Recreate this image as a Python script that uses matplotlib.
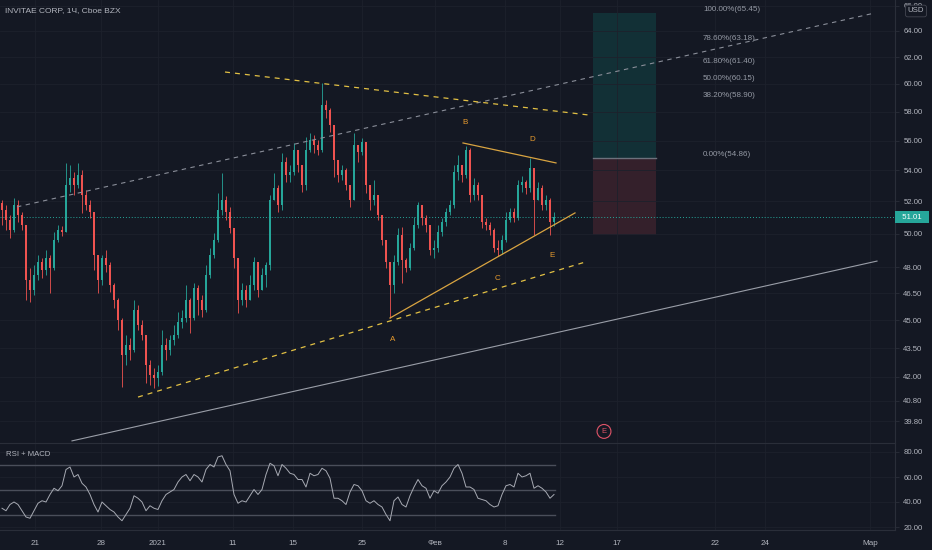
import matplotlib
matplotlib.use("Agg")
import matplotlib.pyplot as plt
from matplotlib.ticker import FixedLocator, NullLocator, FuncFormatter
from matplotlib.patches import Rectangle

# ---------------- data ----------------
title = "INVITAE CORP, 1Ч, Cboe BZX"
first_open = 51.90
closes = [51.46, 50.84, 50.23, 51.77, 51.15, 50.53, 47.26, 46.69, 47.55, 48.30,
          47.84, 48.54, 47.96, 49.62, 50.23, 50.11, 53.05, 53.51, 53.05, 53.70,
          52.41, 51.77, 51.34, 48.72, 47.26, 48.54, 48.13, 46.97, 46.12, 45.01,
          43.13, 43.66, 43.40, 45.56, 44.74, 44.20, 42.61, 42.09, 41.94, 42.25,
          43.66, 43.40, 43.93, 44.20, 44.90, 45.12, 46.12, 45.12, 46.80, 46.12,
          45.56, 47.55, 48.72, 49.62, 51.46, 52.09, 51.34, 50.35, 48.54, 46.12,
          46.69, 46.12, 46.97, 48.30, 46.69, 47.55, 48.13, 52.09, 52.86, 51.77,
          54.57, 53.70, 53.90, 55.37, 54.36, 53.05, 55.37, 56.04, 55.70, 55.37,
          58.48, 58.13, 57.08, 54.70, 53.70, 54.03, 53.05, 52.09, 55.70, 55.24,
          55.91, 53.05, 52.09, 52.41, 51.15, 49.62, 48.30, 46.97, 48.30, 49.92,
          48.42, 47.96, 49.14, 50.53, 51.77, 50.96, 50.53, 49.02, 49.14, 50.11,
          50.72, 51.34, 51.77, 53.90, 54.36, 53.70, 55.37, 52.41, 53.05, 52.41,
          50.72, 50.53, 50.23, 49.14, 49.02, 49.62, 50.84, 51.34, 50.96, 53.05,
          53.25, 52.86, 54.16, 52.09, 52.86, 51.77, 52.09, 50.72, 51.01]
highs = [52.09, 51.77, 51.15, 52.22, 52.09, 51.34, 50.53, 47.96, 48.13, 48.72,
         48.54, 49.02, 48.72, 50.11, 50.53, 50.47, 54.50, 54.36, 53.90, 54.50,
         54.03, 52.73, 52.09, 51.34, 48.72, 48.72, 49.02, 48.30, 47.09, 46.23,
         45.12, 44.20, 44.04, 46.12, 45.84, 45.01, 44.20, 42.87, 42.45, 42.61,
         44.47, 44.04, 44.20, 44.74, 45.45, 45.56, 46.97, 46.23, 47.09, 46.97,
         46.40, 48.13, 49.14, 50.05, 52.54, 53.83, 52.35, 51.65, 49.14, 48.13,
         47.09, 46.97, 47.55, 48.60, 47.84, 47.96, 48.30, 52.41, 53.83, 53.05,
         55.17, 54.90, 54.36, 55.84, 55.37, 54.36, 56.25, 56.52, 56.38, 56.04,
         60.07, 58.84, 58.27, 57.08, 54.70, 54.36, 54.16, 53.05, 56.52, 55.70,
         56.18, 55.91, 52.73, 53.38, 52.41, 51.15, 49.62, 48.30, 48.72, 50.35,
         50.41, 48.54, 49.44, 51.03, 51.96, 51.77, 51.15, 50.53, 49.62, 50.53,
         50.96, 51.59, 52.09, 54.36, 55.04, 54.36, 55.64, 55.50, 53.51, 53.25,
         52.41, 50.96, 50.72, 50.35, 49.62, 49.92, 51.34, 51.59, 51.59, 53.38,
         53.64, 53.38, 54.83, 54.16, 53.25, 53.05, 52.41, 52.22, 51.34]
lows = [50.53, 50.23, 49.74, 50.11, 50.72, 50.23, 46.12, 46.01, 46.40, 47.26,
        47.38, 47.55, 46.52, 47.84, 49.50, 49.86, 50.96, 52.60, 52.41, 52.86,
        51.28, 51.46, 50.96, 47.84, 46.52, 46.97, 47.72, 46.58, 45.67, 44.47,
        41.48, 42.61, 42.87, 43.29, 44.47, 43.93, 41.69, 41.58, 41.43, 41.53,
        42.09, 42.87, 43.13, 43.66, 44.04, 44.58, 44.90, 44.31, 45.01, 45.28,
        45.17, 45.45, 47.38, 48.54, 49.50, 51.15, 50.84, 50.05, 47.96, 45.39,
        45.84, 45.73, 46.12, 46.69, 46.29, 46.69, 46.86, 47.84, 52.09, 51.34,
        51.46, 53.25, 53.25, 53.70, 53.90, 52.60, 52.73, 55.24, 55.17, 55.04,
        55.24, 57.57, 56.59, 53.57, 53.25, 53.38, 52.73, 51.65, 52.09, 54.57,
        55.04, 52.54, 51.46, 51.77, 50.84, 49.32, 47.96, 45.12, 46.52, 48.13,
        47.09, 47.72, 47.84, 49.02, 50.35, 50.53, 50.11, 48.72, 48.54, 48.90,
        49.86, 50.47, 51.15, 51.59, 53.38, 53.25, 53.51, 51.96, 52.09, 52.09,
        50.35, 50.23, 49.92, 48.90, 48.66, 48.78, 49.50, 50.72, 50.72, 50.84,
        52.60, 52.47, 52.60, 49.92, 52.09, 51.46, 51.46, 49.92, 50.47]
rsi = [35, 33, 38, 40, 38, 33, 28, 27, 33, 39,
       41, 40, 46, 51, 49, 53, 66, 68, 60, 62,
       55, 52, 46, 38, 32, 40, 37, 34, 32, 28,
       25, 30, 35, 45, 43, 40, 33, 37, 35, 34,
       41, 46, 48, 50, 56, 60, 62, 57, 62, 60,
       56, 66, 70, 68, 76, 77, 70, 65, 46, 39,
       41, 40, 45, 50, 46, 50, 62, 71, 69, 61,
       70, 67, 63, 62, 58, 58, 52, 63, 61, 62,
       67, 65, 59, 43, 43, 41, 38, 48, 54, 53,
       49, 41, 39, 41, 38, 36, 30, 25, 41, 44,
       38, 36, 45, 52, 58, 53, 51, 43, 49, 47,
       53, 56, 60, 67, 70, 63, 52, 52, 50, 43,
       42, 41, 38, 36, 37, 46, 53, 54, 52, 63,
       60, 61, 63, 51, 53, 51, 48, 43, 46]
last_price = 51.01

price_ticks = [39.8, 40.8, 42.0, 43.5, 45.0, 46.5, 48.0, 50.0, 52.0, 54.0,
               56.0, 58.0, 60.0, 62.0, 64.0, 66.0]
rsi_ticks = [20, 40, 60, 80]
rsi_bands = [30, 50, 70]
date_labels = ["21", "28", "2021", "11", "15", "25", "Фев", "8", "12", "17", "22", "24", "Мар"]
date_pos = [8.25, 24.75, 39.0, 57.75, 72.75, 90.0, 108.25, 125.75, 139.5, 153.75, 178.25, 190.75, 217.0]

# drawings: (bar, price) anchor pairs
gray_dashed = [(3.75, 51.66), (218.25, 65.42)]
yellow_dashed_top = [(55.75, 60.88), (146.5, 57.78)]
yellow_dashed_bottom = [(34.0, 40.98), (145.75, 48.30)]
gold_lower = [(97.0, 45.12), (143.25, 51.28)]
gold_upper = [(115.25, 55.84), (138.5, 54.50)]
gray_solid = [(17.5, 38.85), (218.75, 48.36)]
wave_labels = ["A", "B", "C", "D", "E"]
wave_pos = [(97.75, 43.93), (115.75, 57.22), (124.0, 47.32), (132.5, 56.11), (137.5, 48.66)]
pos_x = (147.75, 163.5)
pos_target, pos_entry, pos_stop = 65.45, 54.86, 49.90
fib_ratios = ["100.00%", "78.60%", "61.80%", "50.00%", "38.20%", "0.00%"]
fib_prices = [65.45, 63.18, 61.40, 60.15, 58.90, 54.86]
fib_x = 175.25
event_pos = (150.5, 39.30)

# ---------------- style ----------------
BG = "#141823"
GRID = "#1d212c"
BORDER = "#2a2e39"
TXT = "#b2b5be"
UP = "#26a69a"
DN = "#ef5350"
FONT = "Liberation Sans"
plt.rcParams["font.family"] = [FONT, "DejaVu Sans"]

W, H = 932, 550
fig = plt.figure(figsize=(W / 100, H / 100), dpi=100, facecolor=BG)
ax = fig.add_axes([0, (H - 443) / H, 895 / W, 443 / H], facecolor=BG)
axr = fig.add_axes([0, (H - 530) / H, 895 / W, 87 / H], facecolor=BG, sharex=ax)

# ---------------- candles ----------------
opens = [first_open] + closes[:-1]
xs = list(range(len(closes)))
for i, (o, c, h, l) in enumerate(zip(opens, closes, highs, lows)):
    col = UP if c >= o else DN
    top = max(o, c, h)
    bot = min(o, c, l)
    ax.vlines(i, bot, top, color=col, linewidth=0.6, zorder=3)
    b0, b1 = min(o, c), max(o, c)
    if b1 - b0 < 0.03:
        b1 = b0 + 0.03
    ax.add_patch(Rectangle((i - 0.3, b0), 0.6, b1 - b0, facecolor=col, edgecolor="none", zorder=4))

ax.set_yscale("log")
ax.set_xlim(-0.5, 223.25)
ax.set_ylim(38.75, 66.46)
ax.yaxis.set_major_locator(FixedLocator(price_ticks))
ax.yaxis.set_minor_locator(NullLocator())
ax.yaxis.set_major_formatter(FuncFormatter(lambda v, p: f"{v:.2f}"))
ax.yaxis.tick_right()
ax.tick_params(axis="y", which="both", labelsize=5.6, colors=TXT, length=3, width=0.6, pad=3)
ax.tick_params(axis="y", color=BORDER)
ax.tick_params(axis="x", length=0, labelbottom=False)
ax.set_xticks(date_pos)
ax.grid(True, color=GRID, linewidth=0.6, zorder=0)
for s in ["top", "left", "bottom"]:
    ax.spines[s].set_visible(False)
ax.spines["right"].set_color(BORDER)

# last price line + label
ax.axhline(last_price, color=UP, linestyle=(0, (1, 2)), linewidth=0.7, zorder=2)
ax.annotate(f"  {last_price:.2f}  ", xy=(1, last_price), xycoords=("axes fraction", "data"),
            xytext=(3, 0), textcoords="offset pixels", va="center", ha="left", fontsize=5.6,
            color="white", annotation_clip=False, zorder=10,
            bbox=dict(boxstyle="square,pad=0.35", fc=UP, ec="none"))

# drawings
def seg(pts, **kw):
    ax.plot([p[0] for p in pts], [p[1] for p in pts], **kw)

seg(gray_dashed, color="#8a8e99", linestyle=(0, (4, 4)), linewidth=0.8, zorder=5)
seg(yellow_dashed_top, color="#e2c044", linestyle=(0, (4, 4)), linewidth=0.9, zorder=5)
seg(yellow_dashed_bottom, color="#e2c044", linestyle=(0, (4, 4)), linewidth=0.9, zorder=5)
seg(gold_lower, color="#d9a441", linewidth=0.9, zorder=5)
seg(gold_upper, color="#d9a441", linewidth=0.9, zorder=5)
seg(gray_solid, color="#9a9ea8", linewidth=0.8, zorder=5)

for lab, (bx, py) in zip(wave_labels, wave_pos):
    ax.text(bx, py, lab, color="#e89b2e", fontsize=5.8, ha="center", va="center", zorder=6)

# position box
ax.add_patch(Rectangle((pos_x[0], pos_entry), pos_x[1] - pos_x[0], pos_target - pos_entry,
                       facecolor="#123036", edgecolor="none", zorder=1))
ax.add_patch(Rectangle((pos_x[0], pos_stop), pos_x[1] - pos_x[0], pos_entry - pos_stop,
                       facecolor="#34202b", edgecolor="none", zorder=1))
ax.plot(pos_x, [pos_entry, pos_entry], color="#6d717c", linewidth=1.0, zorder=2)

# fib labels
for r, pr in zip(fib_ratios, fib_prices):
    ax.text(fib_x, pr, f"{r}({pr:.2f})", color="#959aa5", fontsize=5.8, ha="left", va="bottom", zorder=6)

# event marker
ax.annotate("E", xy=event_pos, ha="center", va="center", fontsize=5.5, color="#e05468", zorder=7,
            bbox=dict(boxstyle="circle,pad=0.45", fc=BG, ec="#e05468", lw=0.8))

# title
ax.text(5 / 895, 1 - 11 / 443, title, transform=ax.transAxes, color=TXT, fontsize=6.0,
        ha="left", va="center", zorder=10)

# USD box
fig.text(916 / W, 1 - 11 / H, "USD", color=TXT, fontsize=5.6, ha="center", va="center", zorder=20,
         bbox=dict(boxstyle="round,pad=0.3,rounding_size=0.3", fc=BG, ec="#434651", lw=0.6))

# ---------------- RSI pane ----------------
axr.plot(xs, rsi, color="#a7aab3", linewidth=0.7, zorder=4)
for b in rsi_bands:
    axr.plot([-0.5, len(rsi) - 0.75], [b, b], color="#4a4e5a", linewidth=1.0, zorder=2)
axr.set_ylim(17.6, 87.2)
axr.yaxis.set_major_locator(FixedLocator(rsi_ticks))
axr.yaxis.set_major_formatter(FuncFormatter(lambda v, p: f"{v:.2f}"))
axr.yaxis.tick_right()
axr.tick_params(axis="y", labelsize=5.6, colors=TXT, length=3, width=0.6, pad=3)
axr.tick_params(axis="y", color=BORDER)
axr.set_xticks(date_pos)
axr.set_xticklabels(date_labels)
axr.tick_params(axis="x", labelsize=5.8, colors=TXT, length=0, pad=7)
axr.grid(True, color=GRID, linewidth=0.6, zorder=0)
axr.spines["left"].set_visible(False)
for s in ["top", "right", "bottom"]:
    axr.spines[s].set_color(BORDER)
axr.text(6 / 895, 1 - 11 / 87, "RSI + MACD", transform=axr.transAxes, color=TXT, fontsize=5.6,
         ha="left", va="center", zorder=10)

fig.savefig("out.png", dpi=100, facecolor=BG)
